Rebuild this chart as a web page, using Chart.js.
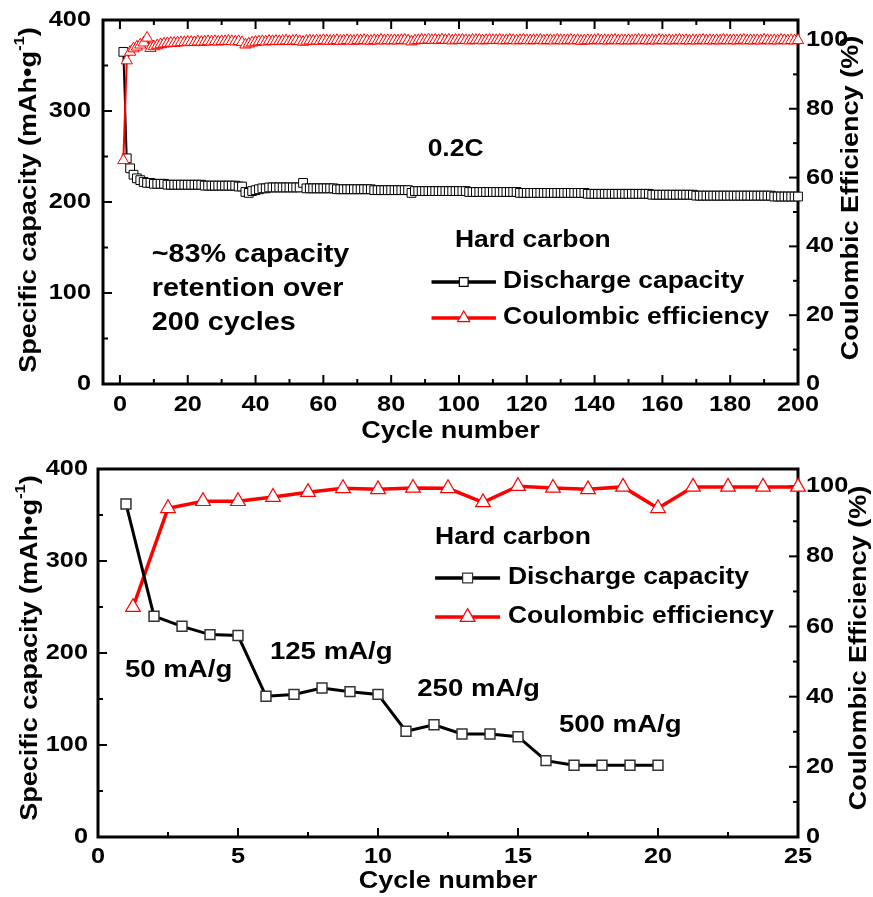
<!DOCTYPE html>
<html>
<head>
<meta charset="utf-8">
<script src="https://cdn.jsdelivr.net/npm/chart.js@4.4.0/dist/chart.umd.min.js"></script>
<style>
  html, body { margin: 0; padding: 0; background: #fff; }
  #wrap { position: relative; width: 873px; height: 897px; }
  .box { position: absolute; left: 0; width: 873px; }
  #box1 { top: 0; height: 448px; }
  #box2 { top: 448px; height: 449px; }
</style>
</head>
<body>
<div id="wrap">
  <div class="box" id="box1"><canvas id="cycleChart"></canvas></div>
  <div class="box" id="box2"><canvas id="rateChart"></canvas></div>
</div>
<script>
// ---- Top panel: 0.2C cycling, discharge capacity (mAh/g) per cycle 1..200 ----
const capacity200 = [
  365, 248, 237, 230, 226, 224, 222, 221, 221, 220,
  220, 220, 220, 219, 219, 219, 219, 219, 219, 219,
  219, 219, 219, 219, 218, 218, 218, 218, 218, 218,
  218, 218, 218, 218, 217, 217, 211, 210, 212, 213,
  214, 215, 215, 216, 216, 216, 216, 216, 216, 216,
  216, 216, 216, 221, 215, 215, 215, 215, 215, 215,
  215, 215, 215, 214, 214, 214, 214, 214, 214, 214,
  214, 214, 214, 214, 213, 213, 213, 213, 213, 213,
  213, 213, 213, 213, 213, 210, 212, 212, 212, 212,
  212, 212, 212, 212, 212, 212, 212, 212, 212, 212,
  212, 212, 211, 211, 211, 211, 211, 211, 211, 211,
  211, 211, 211, 211, 211, 211, 211, 210, 210, 210,
  210, 210, 210, 210, 210, 210, 210, 210, 210, 210,
  210, 210, 210, 210, 210, 210, 210, 209, 209, 209,
  209, 209, 209, 209, 209, 209, 209, 209, 209, 209,
  209, 209, 209, 209, 209, 209, 208, 208, 208, 208,
  208, 208, 208, 208, 208, 208, 208, 208, 208, 207,
  207, 207, 207, 207, 207, 207, 207, 207, 207, 207,
  207, 207, 207, 207, 207, 207, 207, 207, 207, 207,
  207, 207, 206, 206, 206, 206, 206, 206, 206, 206
];
// Coulombic efficiency (%) per cycle 1..200
const efficiency200 = [
  65, 94, 96.5, 97.5, 98, 98.6, 99.2, 100.6, 97.6, 98.1,
  98.4, 98.7, 98.9, 99.0, 99.1, 99.1, 99.2, 99.3, 99.3, 99.4,
  99.4, 99.3, 99.5, 99.4, 99.5, 99.6, 99.5, 99.6, 99.5, 99.6,
  99.6, 99.7, 99.6, 99.5, 99.6, 99.3, 98.6, 98.9, 99.2, 99.4,
  99.5, 99.6, 99.5, 99.7, 99.6, 99.7, 99.6, 99.7, 99.8, 99.6,
  99.7, 99.8, 99.6, 99.4, 99.7, 99.8, 99.7, 99.8, 99.7, 99.9,
  99.8, 99.7, 99.8, 99.9, 99.7, 99.8, 99.9, 99.8, 99.7, 99.9,
  99.8, 99.9, 99.8, 99.7, 99.9, 99.8, 100.0, 99.8, 99.9, 99.8,
  99.9, 99.8, 99.9, 100.0, 99.8, 99.5, 99.8, 99.9, 100.0, 99.9,
  100.1, 99.9, 100.0, 99.9, 100.1, 99.9, 100.0, 99.8, 100.0, 99.9,
  100.0, 99.9, 99.8, 100.0, 99.9, 100.0, 99.8, 99.9, 100.0, 99.9,
  99.9, 100.0, 99.8, 99.9, 100.0, 99.9, 99.8, 99.9, 100.0, 99.9,
  99.8, 99.9, 99.9, 100.0, 99.8, 99.9, 99.9, 99.8, 100.0, 99.9,
  99.8, 99.9, 100.0, 99.8, 99.9, 99.7, 99.8, 99.9, 99.8, 99.9,
  100.0, 99.8, 99.9, 99.8, 99.9, 100.0, 99.8, 99.9, 99.8, 99.9,
  99.8, 99.9, 100.0, 99.8, 99.9, 99.8, 99.9, 99.8, 100.0, 99.9,
  99.8, 99.9, 99.8, 99.9, 100.0, 99.8, 99.9, 99.8, 99.9, 99.8,
  99.9, 100.0, 99.8, 99.9, 99.8, 99.9, 99.8, 100.0, 99.9, 99.8,
  99.9, 99.8, 99.9, 100.0, 99.8, 99.9, 99.8, 99.9, 99.8, 100.0,
  99.9, 99.8, 99.9, 99.8, 100.0, 99.9, 99.8, 99.9, 99.8, 99.9
];

// ---- Bottom panel: rate capability ----
const rateCycles = [1, 2, 3, 4, 5, 6, 7, 8, 9, 10, 11, 12, 13, 14, 15, 16, 17, 18, 19, 20];
const rateCapacity = [362, 240, 229, 220, 219, 153, 155, 162, 158, 155, 115, 122, 112, 112, 109, 83, 78, 78, 78, 78];
const rateEffX = [1.25, 2.5, 3.75, 5, 6.25, 7.5, 8.75, 10, 11.25, 12.5, 13.75, 15, 16.25, 17.5, 18.75, 20, 21.25, 22.5, 23.75, 25];
const rateEfficiency = [65.5, 93.7, 95.7, 95.7, 96.9, 98.3, 99.4, 99.1, 99.5, 99.4, 95.4, 100, 99.5, 99.1, 99.8, 93.7, 99.8, 99.8, 99.8, 99.8];

const FONT = '"Liberation Sans", Arial, Helvetica, sans-serif';
const SX = 1.15; // the original lettering is a bit wider than Arial

function txt(ctx, s, x, y, size, align, rot) {
    ctx.save();
    ctx.translate(x, y);
    if (rot) ctx.rotate(rot);
    ctx.scale(SX, 1);
    ctx.font = 'bold ' + size + 'px ' + FONT;
    ctx.textAlign = align || 'left';
    ctx.textBaseline = 'middle';
    ctx.fillStyle = '#000';
    ctx.fillText(s, 0, 0);
    ctx.restore();
}

function textWidth(ctx, s, size) {
    ctx.font = 'bold ' + size + 'px ' + FONT;
    return ctx.measureText(s).width * SX;
}

// vertical title with a superscript piece, e.g. mAh•g^-1
function titleWithSup(ctx, parts, cx, cy, size) {
    ctx.save();
    ctx.translate(cx, cy);
    ctx.rotate(-Math.PI / 2);
    let total = 0;
    parts.forEach(p => { total += textWidth(ctx, p.t, p.sup ? size * 0.62 : size); });
    let x = -total / 2;
    parts.forEach(p => {
        const sz = p.sup ? size * 0.62 : size;
        txt(ctx, p.t, x, p.sup ? -size * 0.42 : 0, sz, 'left');
        x += textWidth(ctx, p.t, sz);
    });
    ctx.restore();
}

function marker(ctx, style, x, y, r, color, lw) {
    ctx.save();
    ctx.fillStyle = '#fff';
    ctx.strokeStyle = color;
    ctx.lineWidth = lw;
    Chart.helpers.drawPoint(ctx, { pointStyle: style, radius: r, rotation: 0, borderWidth: lw }, x, y);
    ctx.restore();
}

function tickMarks(ctx, scale, major, minor, side, a) {
    const start = Math.ceil(scale.min / minor - 1e-9) * minor;
    for (let v = start; v <= scale.max + 1e-9; v += minor) {
        const isMajor = Math.abs(v / major - Math.round(v / major)) < 1e-6;
        const len = isMajor ? 9 : 5;
        const p = scale.getPixelForValue(v);
        ctx.beginPath();
        if (side === 'bottom') { ctx.moveTo(p, a.bottom); ctx.lineTo(p, a.bottom - len); }
        else if (side === 'top') { ctx.moveTo(p, a.top); ctx.lineTo(p, a.top + len); }
        else if (side === 'left') { ctx.moveTo(a.left, p); ctx.lineTo(a.left + len, p); }
        else { ctx.moveTo(a.right, p); ctx.lineTo(a.right - len, p); }
        ctx.stroke();
    }
}

function tickLabels(ctx, scale, major, side, a, size, pad) {
    const start = Math.ceil(scale.min / major - 1e-9) * major;
    for (let v = start; v <= scale.max + 1e-9; v += major) {
        const p = scale.getPixelForValue(v);
        const s = String(Math.round(v * 100) / 100);
        if (side === 'bottom') txt(ctx, s, p, a.bottom + pad, size, 'center');
        else if (side === 'left') txt(ctx, s, a.left - pad, p, size, 'right');
        else txt(ctx, s, a.right + pad, p, size, 'left');
    }
}

const decor = {
    id: 'decor',
    beforeDatasetsDraw(chart, args, o) {
        const { ctx, chartArea: a, scales } = chart;
        ctx.save();
        ctx.strokeStyle = '#000';
        ctx.lineWidth = 2;
        tickMarks(ctx, scales.x, o.xMajor, o.xMinor, 'bottom', a);
        if (o.topTicks) tickMarks(ctx, scales.x, o.xMajor, o.xMinor, 'top', a);
        tickMarks(ctx, scales.y, 100, 50, 'left', a);
        tickMarks(ctx, scales.y1, 20, 10, 'right', a);
        ctx.lineWidth = 3;
        ctx.strokeRect(a.left, a.top, a.right - a.left, a.bottom - a.top);
        ctx.restore();
    },
    afterDraw(chart, args, o) {
        const { ctx, chartArea: a, scales } = chart;
        const sx = scales.x, sy = scales.y;
        tickLabels(ctx, sx, o.xMajor, 'bottom', a, 22, o.xPad);
        tickLabels(ctx, sy, 100, 'left', a, 22, o.yPad);
        tickLabels(ctx, scales.y1, 20, 'right', a, 22, 8);

        // axis titles
        titleWithSup(ctx, [
            { t: 'Specific capacity (mAh•g' }, { t: '-1', sup: true }, { t: ')' }
        ], o.leftTitle[0], o.leftTitle[1], 23.5);
        txt(ctx, 'Coulombic Efficiency (%)', o.rightTitle[0], o.rightTitle[1], 23.5, 'center', -Math.PI / 2);
        txt(ctx, 'Cycle number', (a.left + a.right) / 2, o.xTitleY, 23.5, 'center');

        // legend
        const lg = o.legend;
        txt(ctx, 'Hard carbon', sx.getPixelForValue(lg.x), sy.getPixelForValue(lg.headY), lg.size, 'left');
        lg.rows.forEach(r => {
            const py = sy.getPixelForValue(r.y);
            const x1 = sx.getPixelForValue(lg.x1), x2 = sx.getPixelForValue(lg.x2);
            ctx.save();
            ctx.strokeStyle = r.color;
            ctx.lineWidth = lg.lineWidth;
            ctx.beginPath();
            ctx.moveTo(x1, py);
            ctx.lineTo(x2, py);
            ctx.stroke();
            ctx.restore();
            marker(ctx, r.style, (x1 + x2) / 2, py, r.radius, r.markColor, 1.2);
            txt(ctx, r.label, sx.getPixelForValue(lg.tx), py, lg.size, 'left');
        });

        // notes
        o.notes.forEach(n => {
            txt(ctx, n.text, sx.getPixelForValue(n.x), sy.getPixelForValue(n.y), n.size, n.align || 'left');
        });
    }
};

function fixedWidth(w) { return function (scale) { scale.width = w; }; }
function fixedHeight(h) { return function (scale) { scale.height = h; }; }

function baseScales(xMin, xMax, leftW, y1Max, xH) {
    const hidden = { display: false };
    return {
        x: { type: 'linear', min: xMin, max: xMax, ticks: { display: false }, grid: hidden, border: hidden, afterFit: fixedHeight(xH) },
        y: { type: 'linear', position: 'left', min: 0, max: 400, ticks: { display: false }, grid: hidden, border: hidden, afterFit: fixedWidth(leftW) },
        y1: { type: 'linear', position: 'right', min: 0, max: y1Max, ticks: { display: false }, grid: hidden, border: hidden, afterFit: fixedWidth(75) }
    };
}

// top chart
new Chart(document.getElementById('cycleChart'), {
    type: 'line',
    data: {
        datasets: [
            {
                label: 'Coulombic efficiency',
                data: efficiency200.map((v, i) => ({ x: i + 1, y: v })),
                yAxisID: 'y1',
                borderColor: '#ff0000',
                borderWidth: 2,
                pointStyle: 'triangle',
                pointRadius: 6.5,
                pointBorderWidth: 1,
                pointBorderColor: '#ff0000',
                pointBackgroundColor: '#fff',
                clip: false,
                order: 1
            },
            {
                label: 'Discharge capacity',
                data: capacity200.map((v, i) => ({ x: i + 1, y: v })),
                yAxisID: 'y',
                borderColor: '#000',
                borderWidth: 2,
                pointStyle: 'rect',
                pointRadius: 6.2,
                pointBorderWidth: 1,
                pointBorderColor: '#000',
                pointBackgroundColor: '#fff',
                clip: false,
                order: 2
            }
        ]
    },
    options: {
        responsive: true,
        maintainAspectRatio: false,
        animation: false,
        events: [],
        layout: { padding: { top: 20, left: 0, right: 0, bottom: 0 } },
        elements: { line: { tension: 0 } },
        scales: baseScales(-5, 200, 103, 105.8, 64),
        plugins: {
            legend: { display: false },
            tooltip: { enabled: false },
            decor: {
                xMajor: 20, xMinor: 10, topTicks: true, xPad: 21, yPad: 12,
                leftTitle: [30, 200], rightTitle: [852, 198], xTitleY: 432,
                legend: {
                    x: 98.8, headY: 158, x1: 91.9, x2: 110.9, tx: 113, size: 23, lineWidth: 3.5,
                    rows: [
                        { y: 112, label: 'Discharge capacity', color: '#000', markColor: '#000', style: 'rect', radius: 6.2 },
                        { y: 72.5, label: 'Coulombic efficiency', color: '#ff0000', markColor: '#ff0000', style: 'triangle', radius: 7 }
                    ]
                },
                notes: [
                    { text: '0.2C', x: 99, y: 258, size: 23, align: 'center' },
                    { text: '~83% capacity', x: 9.4, y: 141.8, size: 25 },
                    { text: 'retention over', x: 9.4, y: 104.4, size: 25 },
                    { text: '200 cycles', x: 9.4, y: 67, size: 25 }
                ]
            }
        }
    },
    plugins: [decor]
});

// bottom chart
new Chart(document.getElementById('rateChart'), {
    type: 'line',
    data: {
        datasets: [
            {
                label: 'Coulombic efficiency',
                data: rateEffX.map((x, i) => ({ x: x, y: rateEfficiency[i] })),
                yAxisID: 'y1',
                borderColor: '#ff0000',
                borderWidth: 3.5,
                pointStyle: 'triangle',
                pointRadius: 8.5,
                pointBorderWidth: 1.2,
                pointBorderColor: '#ff0000',
                pointBackgroundColor: '#fff',
                clip: false,
                order: 2
            },
            {
                label: 'Discharge capacity',
                data: rateCycles.map((x, i) => ({ x: x, y: rateCapacity[i] })),
                yAxisID: 'y',
                borderColor: '#000',
                borderWidth: 3,
                pointStyle: 'rect',
                pointRadius: 7,
                pointBorderWidth: 1.5,
                pointBorderColor: '#333',
                pointBackgroundColor: '#fff',
                clip: false,
                order: 1
            }
        ]
    },
    options: {
        responsive: true,
        maintainAspectRatio: false,
        animation: false,
        events: [],
        layout: { padding: { top: 21, left: 0, right: 0, bottom: 0 } },
        elements: { line: { tension: 0 } },
        scales: baseScales(0, 25, 98, 104.9, 60),
        plugins: {
            legend: { display: false },
            tooltip: { enabled: false },
            decor: {
                xMajor: 5, xMinor: 2.5, topTicks: false, xPad: 20, yPad: 10,
                leftTitle: [31, 200], rightTitle: [860, 200], xTitleY: 434,
                legend: {
                    x: 12.04, headY: 325, x1: 12.04, x2: 14.36, tx: 14.64, size: 23, lineWidth: 3.5,
                    rows: [
                        { y: 281.5, label: 'Discharge capacity', color: '#000', markColor: '#333', style: 'rect', radius: 7 },
                        { y: 239, label: 'Coulombic efficiency', color: '#ff0000', markColor: '#ff0000', style: 'triangle', radius: 8.5 }
                    ]
                },
                notes: [
                    { text: '50 mA/g', x: 0.96, y: 181.5, size: 24 },
                    { text: '125 mA/g', x: 6.14, y: 201, size: 24 },
                    { text: '250 mA/g', x: 11.4, y: 160, size: 24 },
                    { text: '500 mA/g', x: 16.46, y: 121.7, size: 24 }
                ]
            }
        }
    },
    plugins: [decor]
});
</script>
</body>
</html>
